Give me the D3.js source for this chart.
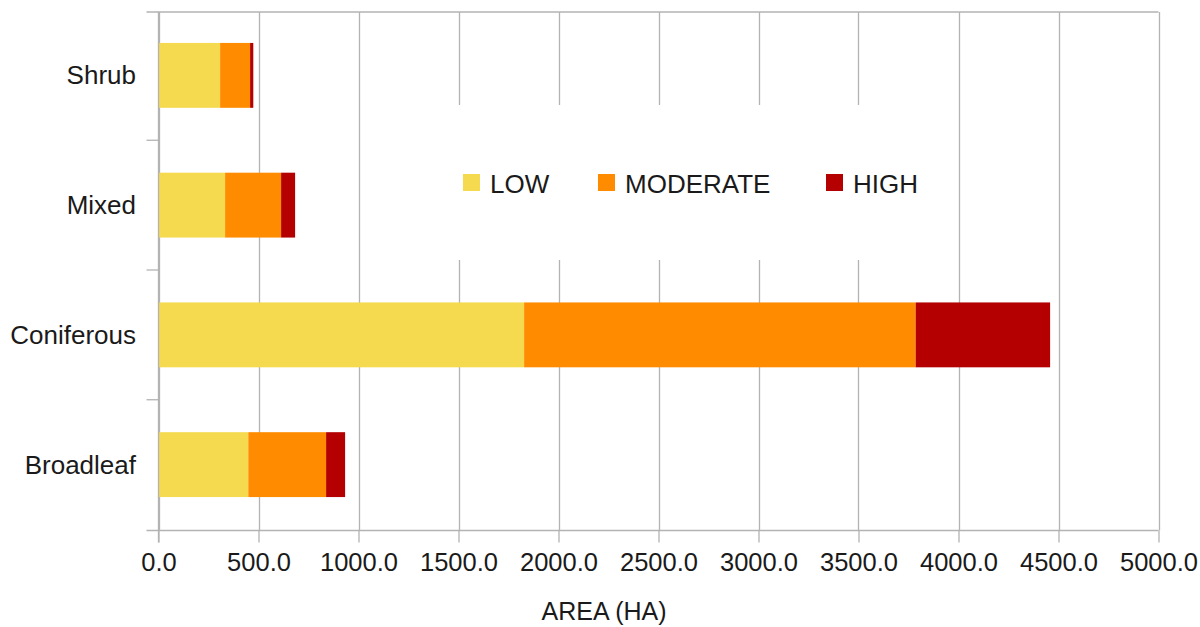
<!DOCTYPE html>
<html>
<head>
<meta charset="utf-8">
<script src="https://cdn.jsdelivr.net/npm/d3@7/dist/d3.min.js"></script>
<style>
  html, body { margin: 0; padding: 0; background: #fff; }
  svg { display: block; font-family: "Liberation Sans", Arial, sans-serif; }
</style>
</head>
<body>
<svg id="chart" width="1200" height="627"></svg>
<script>
// Burned area by vegetation type and severity class (hectares)
const categories = ["Shrub", "Mixed", "Coniferous", "Broadleaf"];
const severities = ["LOW", "MODERATE", "HIGH"];
const lowValues = [308, 333, 1828, 449];
const moderateValues = [150, 280, 1958, 389];
const highValues = [16, 70, 672, 95];
const xTicks = [0, 500, 1000, 1500, 2000, 2500, 3000, 3500, 4000, 4500, 5000];
const xTitle = "AREA (HA)";

const colors = { LOW: "#f5da4f", MODERATE: "#ff8c00", HIGH: "#b40000" };
const gridColor = "#b3b3b3";
const textColor = "#1a1a1a";

const rows = categories.map((c, i) => ({
  category: c, LOW: lowValues[i], MODERATE: moderateValues[i], HIGH: highValues[i]
}));

const svg = d3.select("#chart");
const plotLeft = 158.5, plotRight = 1158.5, plotTop = 12, plotBottom = 530.5;

const x = d3.scaleLinear().domain([0, 5000]).range([plotLeft, plotRight]);
const y = d3.scaleBand().domain(categories).range([10.5, 529.5])
  .paddingInner(0.5).paddingOuter(0.25);

// vertical grid lines
svg.append("g").selectAll("line").data(xTicks).join("line")
  .attr("x1", d => Math.round(x(d)) + 0.5).attr("x2", d => Math.round(x(d)) + 0.5)
  .attr("y1", plotTop).attr("y2", plotBottom)
  .attr("stroke", gridColor).attr("stroke-width", 1.3);

// top frame line
svg.append("line")
  .attr("x1", plotLeft - 12).attr("x2", plotRight).attr("y1", plotTop).attr("y2", plotTop)
  .attr("stroke", gridColor).attr("stroke-width", 1.3);

// legend background hides the grid behind the key
svg.append("rect")
  .attr("x", 440).attr("y", 105).attr("width", 500).attr("height", 155)
  .attr("fill", "#fff");

// stacked bars
const stacked = d3.stack().keys(severities)(rows);
svg.append("g").selectAll("g").data(stacked).join("g")
  .attr("fill", s => colors[s.key])
  .selectAll("rect").data(s => s).join("rect")
  .attr("x", d => x(d[0]))
  .attr("width", d => x(d[1]) - x(d[0]))
  .attr("y", d => y(d.data.category))
  .attr("height", y.bandwidth());

// x axis
const xAxis = d3.axisBottom(x).tickValues(xTicks).tickFormat(d3.format(".1f"))
  .tickSize(12).tickSizeOuter(0).tickPadding(10);
const gx = svg.append("g").attr("transform", `translate(0,${plotBottom})`).call(xAxis);
gx.select(".domain").attr("stroke", gridColor).attr("stroke-width", 1.3)
  .attr("d", `M${plotLeft - 12},0H${plotRight}`);
gx.selectAll(".tick line").attr("stroke", gridColor).attr("stroke-width", 1.3);
gx.selectAll(".tick text").attr("fill", textColor)
  .style("font-size", "25.5px").style("font-family", "'Liberation Sans', Arial, sans-serif");

// y axis: line plus ticks at the category boundaries
svg.append("line")
  .attr("x1", plotLeft).attr("x2", plotLeft).attr("y1", plotTop).attr("y2", plotBottom + 12)
  .attr("stroke", gridColor).attr("stroke-width", 1.3);
const boundaries = categories.slice(1).map(c => y(c) - y.step() * y.paddingInner() / 2);
svg.append("g").selectAll("line").data(boundaries).join("line")
  .attr("x1", plotLeft - 12).attr("x2", plotLeft).attr("y1", d => d).attr("y2", d => d)
  .attr("stroke", gridColor).attr("stroke-width", 1.3);

// category labels
svg.append("g").selectAll("text").data(categories).join("text")
  .attr("x", 136).attr("y", d => y(d) + y.bandwidth() / 2)
  .attr("dy", "0.35em").attr("text-anchor", "end")
  .attr("fill", textColor).style("font-size", "26px")
  .text(d => d);

// axis title
svg.append("text")
  .attr("x", 604).attr("y", 620).attr("text-anchor", "middle")
  .attr("fill", textColor).style("font-size", "25px")
  .text(xTitle);

// legend
const legendX = [463, 598, 826];
const lg = svg.append("g").selectAll("g").data(severities).join("g")
  .attr("transform", (d, i) => `translate(${legendX[i]},174)`);
lg.append("rect").attr("width", 17).attr("height", 17).attr("fill", d => colors[d]);
lg.append("text").attr("x", 27).attr("y", 18.5)
  .attr("fill", textColor).style("font-size", "26px").text(d => d);
</script>
</body>
</html>
